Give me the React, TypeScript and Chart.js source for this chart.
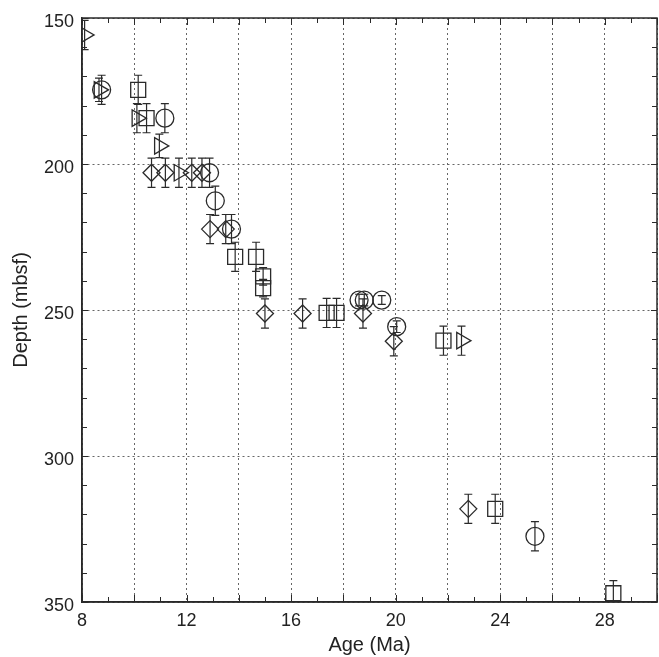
import React, { useEffect, useRef } from 'react';
import { Chart, registerables } from 'chart.js';

Chart.register(...registerables);

// ---- data (Age in Ma, Depth in mbsf, vertical error in m) ----
const diamondAge = [10.66, 11.19, 12.2, 12.59, 12.9, 13.5, 15.0, 16.44, 18.75, 19.93, 22.78];
const diamondDepth = [203, 203, 203, 203, 222.3, 222.3, 251.2, 251.2, 251.2, 260.7, 318.1];
const diamondErr = [5, 5, 5, 5, 5, 5, 5, 5, 5, 5, 5];

const squareAge = [10.15, 10.47, 13.86, 14.66, 14.93, 14.93, 17.36, 17.74, 21.83, 23.81, 28.33];
const squareDepth = [174.6, 184.3, 231.8, 231.8, 238.5, 242.5, 251, 251, 260.5, 318.1, 347];
const squareErr = [5, 5, 5, 5, 3, 3, 5, 5, 5, 5, 4.3];

const circleAge = [8.75, 11.17, 12.88, 13.1, 13.72, 18.6, 18.8, 19.47, 20.04, 25.33];
const circleDepth = [174.6, 184.3, 203, 212.6, 222.3, 246.6, 246.6, 246.6, 255.7, 327.5];
const circleErr = [5, 5, 5, 5, 5, 2, 2, 1.5, 2, 5];

const triangleAge = [8.1, 8.65, 10.1, 10.96, 11.71, 22.52];
const triangleDepth = [155.8, 174.6, 184.3, 193.8, 203, 260.5];
const triangleErr = [5, 4, 5, 4, 5, 5];

const xTickLabels = [8, 12, 16, 20, 24, 28];
const yTickLabels = [150, 200, 250, 300, 350];
const xTitle = 'Age (Ma)';
const yTitle = 'Depth (mbsf)';

const INK = '#2a2a2a';
const GRID = '#666666';

const toPoints = (xs: number[], ys: number[]) => xs.map((x, i) => ({ x, y: ys[i] }));

const errorBarPlugin = {
  id: 'errorBars',
  beforeDatasetsDraw(chart: any) {
    const { ctx, chartArea, scales } = chart;
    const xs = scales.x;
    const ys = scales.y;
    ctx.save();
    ctx.beginPath();
    ctx.rect(chartArea.left, chartArea.top, chartArea.right - chartArea.left, chartArea.bottom - chartArea.top);
    ctx.clip();
    ctx.strokeStyle = INK;
    ctx.lineWidth = 1.2;
    chart.data.datasets.forEach((ds: any) => {
      const errs: number[] = ds.errs || [];
      ds.data.forEach((p: any, i: number) => {
        const e = errs[i];
        if (!e) return;
        const px = xs.getPixelForValue(p.x);
        const y1 = ys.getPixelForValue(p.y - e);
        const y2 = ys.getPixelForValue(p.y + e);
        ctx.beginPath();
        ctx.moveTo(px, y1);
        ctx.lineTo(px, y2);
        ctx.moveTo(px - 4, y1);
        ctx.lineTo(px + 4, y1);
        ctx.moveTo(px - 4, y2);
        ctx.lineTo(px + 4, y2);
        ctx.stroke();
      });
    });
    ctx.restore();
  },
};

const framePlugin = {
  id: 'frame',
  afterDraw(chart: any) {
    const { ctx, chartArea, scales } = chart;
    const { left, right, top, bottom } = chartArea;
    const xs = scales.x;
    const ys = scales.y;
    ctx.save();
    ctx.setLineDash([]);
    ctx.strokeStyle = INK;
    ctx.lineWidth = 1.5;
    ctx.strokeRect(left, top, right - left, bottom - top);
    ctx.lineWidth = 1;
    ctx.beginPath();
    // y ticks every 10 (inward), longer every 50
    for (let v = 150; v <= 350; v += 10) {
      const py = Math.round(ys.getPixelForValue(v)) + 0.5;
      const len = v % 50 === 0 ? 6 : 5;
      ctx.moveTo(left, py);
      ctx.lineTo(left + len, py);
      ctx.moveTo(right, py);
      ctx.lineTo(right - len, py);
    }
    // x ticks every 1 (inward), longer every 2
    for (let v = 8; v <= 30; v += 1) {
      const px = Math.round(xs.getPixelForValue(v)) + 0.5;
      const len = v % 2 === 0 ? 7 : 5;
      ctx.moveTo(px, bottom);
      ctx.lineTo(px, bottom - len);
      ctx.moveTo(px, top);
      ctx.lineTo(px, top + len);
    }
    ctx.stroke();
    ctx.restore();
  },
};

export default function App() {
  const canvasRef = useRef<HTMLCanvasElement | null>(null);

  useEffect(() => {
    const canvas = canvasRef.current;
    if (!canvas) return;
    const common = {
      showLine: false,
      borderColor: INK,
      backgroundColor: 'transparent',
      borderWidth: 1.3,
      pointBorderColor: INK,
      pointBackgroundColor: 'transparent',
    };
    const chart = new Chart(canvas, {
      type: 'scatter',
      data: {
        datasets: [
          { ...common, label: 'diamond', data: toPoints(diamondAge, diamondDepth), errs: diamondErr, pointStyle: 'rectRot', pointRadius: 8.5 } as any,
          { ...common, label: 'square', data: toPoints(squareAge, squareDepth), errs: squareErr, pointStyle: 'rect', pointRadius: 10.6 } as any,
          { ...common, label: 'circle', data: toPoints(circleAge, circleDepth), errs: circleErr, pointStyle: 'circle', pointRadius: 9 } as any,
          { ...common, label: 'triangle', data: toPoints(triangleAge, triangleDepth), errs: triangleErr, pointStyle: 'triangle', pointRotation: 90, pointRadius: 9.5 } as any,
        ],
      },
      options: {
        animation: false,
        responsive: false,
        maintainAspectRatio: false,
        layout: { autoPadding: false, padding: { top: 18, right: 2, left: 0, bottom: 0 } },
        plugins: { legend: { display: false }, tooltip: { enabled: false } },
        events: [],
        scales: {
          x: {
            type: 'linear',
            min: 8,
            max: 30,
            afterFit(scale: any) {
              scale.height = 55;
              scale.paddingRight = 0;
              scale.paddingLeft = 0;
            },
            border: { display: true, color: INK, width: 1.5, dash: [2, 3] },
            grid: { color: GRID, lineWidth: 1, drawTicks: false },
            ticks: {
              stepSize: 2,
              padding: 8,
              color: '#222',
              font: { family: 'Liberation Sans', size: 18 },
              maxRotation: 0,
              autoSkip: false,
              callback: (v: any) => (xTickLabels.includes(Number(v)) ? String(v) : ''),
            },
            title: { display: true, text: xTitle, color: '#222', font: { family: 'Liberation Sans', size: 20 }, padding: { top: 0, bottom: 0 } },
          },
          y: {
            type: 'linear',
            reverse: true,
            min: 150,
            max: 350,
            afterFit(scale: any) {
              scale.width = 82;
              scale.paddingTop = 0;
              scale.paddingBottom = 0;
            },
            border: { display: true, color: INK, width: 1.5, dash: [2, 3] },
            grid: { color: GRID, lineWidth: 1, drawTicks: false },
            ticks: {
              stepSize: 50,
              padding: 8,
              labelOffset: 4,
              color: '#222',
              font: { family: 'Liberation Sans', size: 18 },
              autoSkip: false,
              callback: (v: any) => (yTickLabels.includes(Number(v)) ? String(v) : ''),
            },
            title: { display: true, text: yTitle, color: '#222', font: { family: 'Liberation Sans', size: 20 }, padding: { top: 9, bottom: 0 } },
          },
        },
      } as any,
      plugins: [errorBarPlugin, framePlugin],
    });
    return () => chart.destroy();
  }, []);

  return (
    <div style={{ position: 'fixed', left: 0, top: 0, width: 659, height: 657, background: '#fff' }}>
      <canvas ref={canvasRef} width={659} height={657} style={{ width: 659, height: 657, display: 'block' }} />
    </div>
  );
}
